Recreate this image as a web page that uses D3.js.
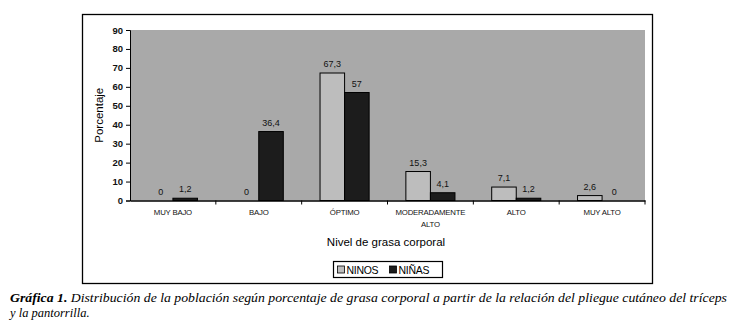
<!DOCTYPE html>
<html lang="es">
<head>
<meta charset="UTF-8">
<title>Gráfica 1</title>
<script src="https://d3js.org/d3.v7.min.js"></script>
<style>
  body { margin: 0; background: #fff; }
  svg { display: block; }
  .axis text { font-family: Arial, "Liberation Sans", sans-serif; font-size: 8.5px; fill: #111; }
  .tick line, .domain { stroke: #000; }
  .lbl { font-family: Arial, "Liberation Sans", sans-serif; font-size: 9px; fill: #111; }
  .caption { font-family: "Liberation Serif", "DejaVu Serif", serif; font-style: italic; font-size: 12.5px; fill: #000; }
</style>
</head>
<body>
<svg width="738" height="335"></svg>
<script>
// datos
const categorias = ["MUY BAJO", "BAJO", "ÓPTIMO", "MODERADAMENTE ALTO", "ALTO", "MUY ALTO"];
const ninos = [0, 0, 67.3, 15.3, 7.1, 2.6];
const ninas = [1.2, 36.4, 57, 4.1, 1.2, 0];
const series = ["NINOS", "NIÑAS"];
const yTicks = [0, 10, 20, 30, 40, 50, 60, 70, 80, 90];

const colores = { "NINOS": "#bdbdbd", "NIÑAS": "#1c1c1c" };

const svg = d3.select("svg");

// marco exterior
svg.append("rect")
  .attr("x", 82.5).attr("y", 14.5)
  .attr("width", 570).attr("height", 269)
  .attr("fill", "#fff").attr("stroke", "#000").attr("stroke-width", 1.3);

const plot = { left: 130, right: 645, top: 30, bottom: 200.5 };

const x = d3.scaleBand()
  .domain(categorias)
  .range([plot.left, plot.right])
  .padding(0);

const y = d3.scaleLinear()
  .domain([0, 90])
  .range([plot.bottom, plot.top]);

// fondo del área de trazado
svg.append("rect")
  .attr("x", plot.left).attr("y", plot.top)
  .attr("width", plot.right - plot.left).attr("height", plot.bottom - plot.top)
  .attr("fill", "#a9a9a9");

const barW = x.bandwidth() * 0.286;
const xs = d3.scaleBand().domain(series).range([0, barW * 2]);

const datos = categorias.map((c, i) => ({ cat: c, vals: [
  { serie: "NINOS", v: ninos[i] },
  { serie: "NIÑAS", v: ninas[i] }
]}));

const grupos = svg.append("g").selectAll("g")
  .data(datos)
  .join("g")
  .attr("transform", d => `translate(${x(d.cat) + (x.bandwidth() - barW * 2) / 2},0)`);

grupos.selectAll("rect")
  .data(d => d.vals)
  .join("rect")
  .attr("x", d => xs(d.serie))
  .attr("y", d => y(d.v))
  .attr("width", xs.bandwidth())
  .attr("height", d => y(0) - y(d.v))
  .attr("fill", d => colores[d.serie])
  .attr("stroke", d => d.v > 0 ? "#000" : "none")
  .attr("stroke-width", 1);

grupos.selectAll("text")
  .data(d => d.vals)
  .join("text")
  .attr("class", "lbl")
  .attr("x", d => xs(d.serie) + xs.bandwidth() / 2)
  .attr("y", d => y(d.v) - 6)
  .attr("text-anchor", "middle")
  .text(d => String(d.v).replace(".", ","));

// eje Y
svg.append("g")
  .attr("class", "axis")
  .attr("transform", `translate(${plot.left},0)`)
  .call(d3.axisLeft(y).tickValues(yTicks).tickSize(4).tickPadding(3))
  .call(g => g.selectAll("text").style("font-weight", "bold").style("font-size", "9.5px"));

// eje X
const xAxis = svg.append("g")
  .attr("class", "axis")
  .attr("transform", `translate(0,${plot.bottom})`)
  .call(d3.axisBottom(x).tickSize(0).tickFormat(""));
xAxis.select(".domain").attr("stroke-width", 1.3);

// marcas entre categorías
svg.append("g").selectAll("line")
  .data(categorias.slice(1).concat(["_fin"]))
  .join("line")
  .attr("x1", d => d === "_fin" ? plot.right : x(d))
  .attr("x2", d => d === "_fin" ? plot.right : x(d))
  .attr("y1", plot.bottom)
  .attr("y2", plot.bottom + 4)
  .attr("stroke", "#000");

// etiquetas de categoría
const catLbl = svg.append("g").selectAll("text")
  .data(categorias)
  .join("text")
  .attr("class", "lbl")
  .attr("x", d => x(d) + x.bandwidth() / 2)
  .attr("y", plot.bottom + 14)
  .attr("text-anchor", "middle")
  .style("font-size", "7.8px")
  .style("letter-spacing", "-0.2px");
catLbl.each(function(d) {
  const t = d3.select(this);
  const partes = d === "MODERADAMENTE ALTO" ? ["MODERADAMENTE", "ALTO"] : [d];
  partes.forEach((p, i) => {
    t.append("tspan").attr("x", x(d) + x.bandwidth() / 2).attr("dy", i ? 12 : 0).text(p);
  });
});

// títulos de ejes
svg.append("text")
  .attr("transform", `translate(103,${(plot.top + plot.bottom) / 2}) rotate(-90)`)
  .attr("text-anchor", "middle")
  .style("font-family", "Arial, 'Liberation Sans', sans-serif")
  .style("font-size", "11.5px")
  .text("Porcentaje");

svg.append("text")
  .attr("x", 386)
  .attr("y", 246)
  .attr("text-anchor", "middle")
  .style("font-family", "Arial, 'Liberation Sans', sans-serif")
  .style("font-size", "11.5px")
  .text("Nivel de grasa corporal");

// leyenda
const ley = svg.append("g").attr("transform", "translate(333.5,261.5)");
ley.append("rect").attr("width", 109).attr("height", 16)
  .attr("fill", "#fff").attr("stroke", "#000").attr("stroke-width", 1.2);
const items = ley.selectAll("g.item")
  .data(series)
  .join("g")
  .attr("class", "item")
  .attr("transform", (d, i) => `translate(${i ? 56 : 4},0)`);
items.append("rect")
  .attr("y", 4.5).attr("width", 7).attr("height", 7)
  .attr("fill", d => colores[d]).attr("stroke", "#000").attr("stroke-width", 0.8);
items.append("text")
  .attr("x", 9).attr("y", 12.3)
  .style("font-family", "Arial, 'Liberation Sans', sans-serif")
  .style("font-size", "10.5px")
  .style("letter-spacing", "-0.3px")
  .text(d => d);

// pie de figura
const cap = svg.append("text").attr("class", "caption")
  .attr("x", 10).attr("y", 302)
  .attr("textLength", 717).attr("lengthAdjust", "spacingAndGlyphs");
cap.append("tspan").style("font-weight", "bold").text("Gráfica 1.");
cap.append("tspan").text(" Distribución de la población según porcentaje de grasa corporal a partir de la relación del pliegue cutáneo del tríceps");
svg.append("text").attr("class", "caption")
  .attr("x", 10).attr("y", 317)
  .text("y la pantorrilla.");
</script>
</body>
</html>
